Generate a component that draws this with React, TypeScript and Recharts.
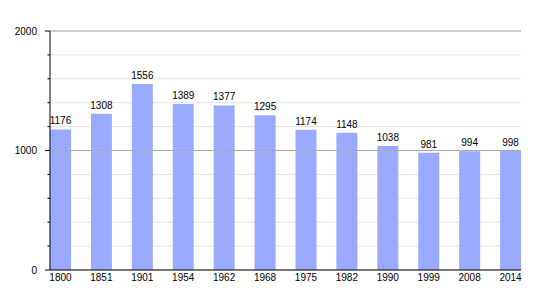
import React from "react";
import {
  BarChart,
  Bar,
  XAxis,
  YAxis,
  CartesianGrid,
  ReferenceLine,
  LabelList,
} from "recharts";

const years = ["1800", "1851", "1901", "1954", "1962", "1968", "1975", "1982", "1990", "1999", "2008", "2014"];
const population = [1176, 1308, 1556, 1389, 1377, 1295, 1174, 1148, 1038, 981, 994, 998];
const yTicks = [0, 200, 400, 600, 800, 1000, 1200, 1400, 1600, 1800, 2000];
const majorTicks = [0, 1000, 2000];

const data = years.map((year, i) => ({ year, value: population[i] }));

const FONT = "'Liberation Sans', Arial, sans-serif";

function YTick(props: any) {
  const { x, y, payload } = props;
  const major = majorTicks.includes(payload.value);
  return (
    <g>
      <line
        x1={major ? x - 5 : x - 2.5}
        x2={x}
        y1={y}
        y2={y}
        stroke="#000"
        strokeWidth={1}
      />
      {major && (
        <text
          x={x - 13}
          y={y}
          dy={3.5}
          textAnchor="end"
          fontSize={10}
          fontFamily={FONT}
          fill="#000"
        >
          {payload.value}
        </text>
      )}
    </g>
  );
}

export default function App() {
  return (
    <div style={{ position: "absolute", left: 0, top: 0, background: "#fff" }}>
      <BarChart
        width={550}
        height={300}
        data={data}
        margin={{ top: 31, right: 29, bottom: 0, left: 0 }}
      >
        <CartesianGrid vertical={false} stroke="#e3e3e3" />
        <ReferenceLine y={1000} stroke="#aaaaaa" />
        <ReferenceLine y={2000} stroke="#aaaaaa" />
        <XAxis
          dataKey="year"
          height={30}
          padding={{ left: -10, right: -10 }}
          tickLine={false}
          tickSize={0}
          tickMargin={4}
          axisLine={{ stroke: "#000" }}
          tick={{ fontSize: 10, fill: "#000", fontFamily: FONT }}
          interval={0}
        />
        <YAxis
          width={50}
          domain={[0, 2000]}
          ticks={yTicks}
          interval={0}
          tickLine={false}
          tickSize={0}
          tickMargin={0}
          axisLine={{ stroke: "#000" }}
          tick={<YTick />}
        />
        <Bar dataKey="value" fill="#99aaff" barSize={21} isAnimationActive={false}>
          <LabelList
            dataKey="value"
            position="top"
            offset={5}
            fontSize={10}
            fill="#000"
            fontFamily={FONT}
          />
        </Bar>
      </BarChart>
    </div>
  );
}
